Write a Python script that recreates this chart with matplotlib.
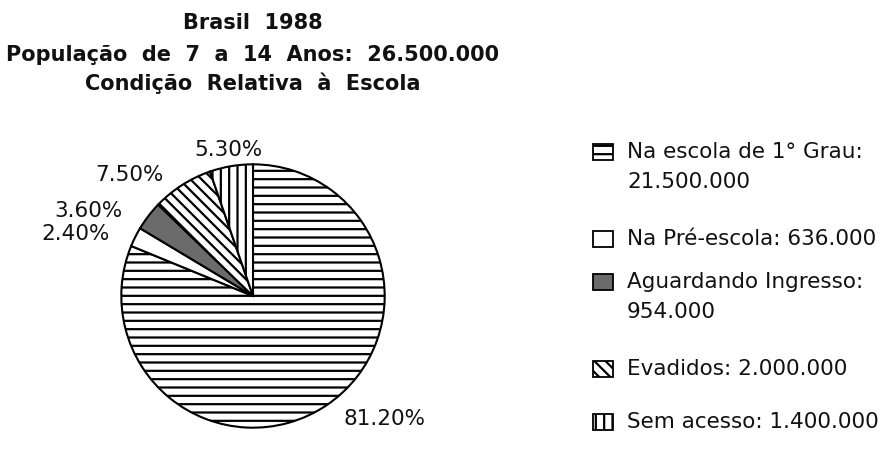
import matplotlib
matplotlib.use("Agg")
import matplotlib.pyplot as plt
from matplotlib.patches import Rectangle

# ===== Data =====
categories = ["Na escola de 1° Grau", "Na Pré-escola", "Aguardando Ingresso",
              "Evadidos", "Sem acesso"]
shares = [81.2, 2.4, 3.6, 7.5, 5.3]
pct_labels = ["81.20%", "2.40%", "3.60%", "7.50%", "5.30%"]
legend_labels = ["Na escola de 1° Grau:\n21.500.000",
                 "Na Pré-escola: 636.000",
                 "Aguardando Ingresso:\n954.000",
                 "Evadidos: 2.000.000",
                 "Sem acesso: 1.400.000"]

# ===== Styles / layout =====
hatches = ["--", "", "", "\\\\\\", "||"]
faces = ["white", "white", "0.42", "white", "white"]
label_pos = [(1.00, -0.93), (-1.35, 0.48), (-1.25, 0.65), (-0.94, 0.93), (-0.19, 1.12)]
legend_y = [153, 240, 283, 370, 423]  # pixel rows, from top

plt.rcParams["hatch.linewidth"] = 1.6
plt.rcParams["font.family"] = ["DejaVu Sans"]

W, H = 891, 452
fig = plt.figure(figsize=(W / 100, H / 100), dpi=100)

# ===== Pie =====
cx, cy, r = 253, 297, 133
ax = fig.add_axes([(cx - r) / W, (H - cy - r) / H, 2 * r / W, 2 * r / H])
wedges, _ = ax.pie(shares, startangle=90, counterclock=False, colors=faces,
                   wedgeprops=dict(edgecolor="black", linewidth=1.5))
for w, h in zip(wedges, hatches):
    w.set_hatch(h)
ax.set_xlim(-1.01, 1.01)
ax.set_ylim(-1.01, 1.01)
ax.axis("off")

for txt, (x, y) in zip(pct_labels, label_pos):
    ax.text(x, y, txt, ha="center", va="center", fontsize=15.5, color="#111")

# ===== Title =====
title_lines = ["Brasil  1988",
               "População  de  7  a  14  Anos:  26.500.000",
               "Condição  Relativa  à  Escola"]
for line, py in zip(title_lines, [23, 55, 83]):
    fig.text(cx / W, 1 - py / H, line, ha="center", va="center",
             fontsize=15, fontweight="bold", color="#111")

# ===== Legend (drawn by hand to keep first-line alignment) =====
for w, lab, py in zip(wedges, legend_labels, legend_y):
    box = Rectangle((593 / W, 1 - (py + 8) / H), 20 / W, 16 / H,
                    transform=fig.transFigure, facecolor=w.get_facecolor(),
                    edgecolor="black", linewidth=1.3, hatch=w.get_hatch())
    fig.patches.append(box)
    fig.text(627 / W, 1 - (py - 11) / H, lab, ha="left", va="top",
             fontsize=15.5, color="#111", linespacing=1.65)

fig.savefig("out.png", dpi=100, facecolor="white")
